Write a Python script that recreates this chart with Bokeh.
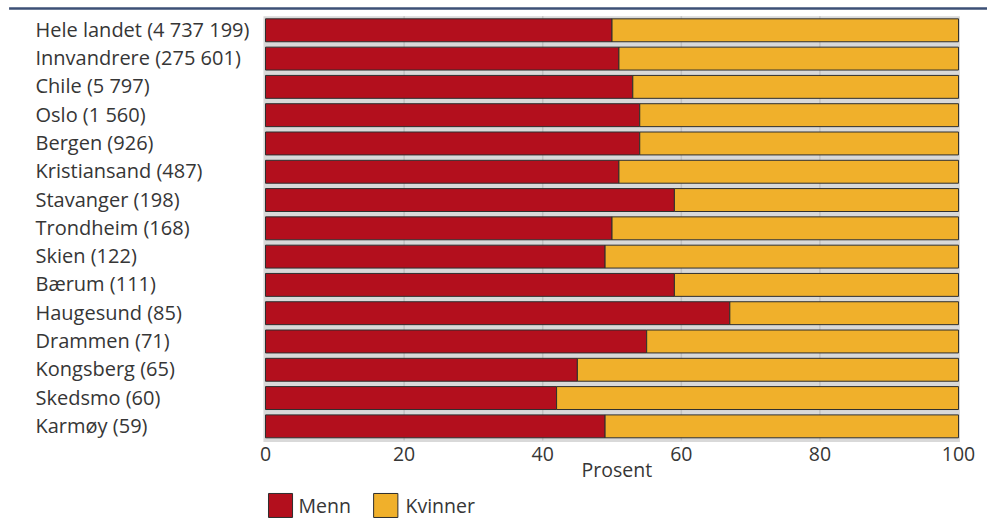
from bokeh.plotting import figure
from bokeh.models import Range1d, ColumnDataSource
from bokeh.core.properties import value
from bokeh.embed import file_html
from bokeh.resources import INLINE

# ---- data ----
categories = [
    "Hele landet (4 737 199)", "Innvandrere (275 601)", "Chile (5 797)",
    "Oslo (1 560)", "Bergen (926)", "Kristiansand (487)", "Stavanger (198)",
    "Trondheim (168)", "Skien (122)", "Bærum (111)", "Haugesund (85)",
    "Drammen (71)", "Kongsberg (65)", "Skedsmo (60)", "Karmøy (59)",
]
menn = [50, 51, 53, 54, 54, 51, 59, 50, 49, 59, 67, 55, 45, 42, 49]
kvinner = [50, 49, 47, 46, 46, 49, 41, 50, 51, 41, 33, 45, 55, 58, 51]
x_ticks = [0, 20, 40, 60, 80, 100]
x_tick_labels = ["0", "20", "40", "60", "80", "100"]
axis_title = "Prosent"
series_names = ["Menn", "Kvinner"]

# ---- styles ----
RED = "#b30f1d"
ORANGE = "#f0b02b"
EDGE = "#2e2e2e"
TXT = "#363636"
FONT = value("Open Sans")
FS_LAB = "20px"
FS = "19.5px"

idx = list(range(len(categories)))
kv_end = [m + k for m, k in zip(menn, kvinner)]
src = ColumnDataSource(dict(y=idx, cat=categories, m0=[0] * len(idx), m1=menn, k1=kv_end))

p = figure(width=987, height=520, output_backend="svg", toolbar_location=None,
           x_range=Range1d(-38.24, 104.18), y_range=Range1d(17.328, -1.0534),
           x_axis_type=None, y_axis_type=None, min_border=0,
           min_border_left=0, min_border_right=0, min_border_top=0, min_border_bottom=0)
p.outline_line_color = None
p.xgrid.visible = False
p.ygrid.visible = False
p.background_fill_color = "white"
p.border_fill_color = "white"

# blue rule at top
p.quad(left=-37.0, right=104.18, top=-0.8166, bottom=-0.7247, fill_color="#3c5076",
       line_color=None)

# plot background
p.quad(left=-0.3, right=100.2, top=-0.5, bottom=14.55, fill_color="#d9d9d9", line_color=None)

# grid lines
p.segment(x0=x_ticks[1:-1], x1=x_ticks[1:-1], y0=[-0.5] * 4, y1=[14.5] * 4,
          line_color="#c2c2c2", line_width=1.5)

# bars
p.hbar(y="y", left="m0", right="m1", height=0.81, source=src,
       fill_color=RED, line_color=EDGE, line_width=1)
p.hbar(y="y", left="m1", right="k1", height=0.81, source=src,
       fill_color=ORANGE, line_color=EDGE, line_width=1)

# category labels
p.text(x=-33.19, y="y", text="cat", source=src, text_font=FONT, text_font_size=FS_LAB,
       text_baseline="middle", text_align="left", text_color=TXT, y_offset=-1)

# x tick labels
p.text(x=x_ticks, y=[14.98] * len(x_ticks), text=x_tick_labels, text_font=FONT,
       text_font_size=FS, text_baseline="alphabetic", text_align="center", text_color=TXT)

# axis title
p.text(x=[50.7], y=[15.52], text=[axis_title], text_font=FONT, text_font_size=FS,
       text_baseline="alphabetic", text_align="center", text_color=TXT)

# legend
p.quad(left=[0.43, 15.6], right=[3.9, 19.1], top=[16.373, 16.373], bottom=[17.221, 17.221],
       fill_color=[RED, ORANGE], line_color=EDGE, line_width=1)
p.text(x=[4.76, 20.2], y=[16.80, 16.80], text=series_names, text_font=FONT, text_font_size=FS,
       text_baseline="alphabetic", text_align="left", text_color=TXT)

open("out.html", "w").write(file_html(p, INLINE))
